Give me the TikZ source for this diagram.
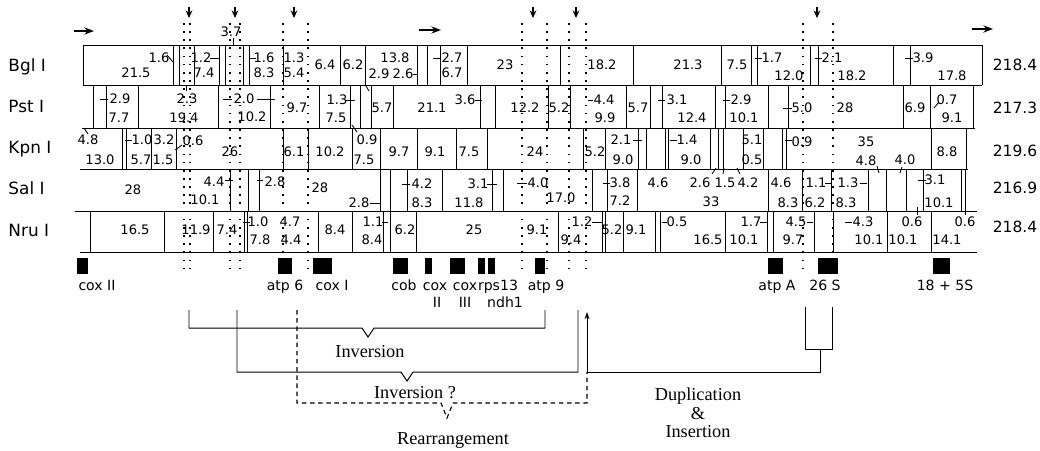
\documentclass[tikz,border=0pt]{standalone}
\usepackage{fontspec}
\setmainfont{Liberation Serif}
\newfontfamily\mapsans{DejaVu Sans}
\usepackage{tikz}
\usetikzlibrary{arrows.meta}

\begin{document}
\begin{tikzpicture}[x=0.025cm, y=-0.025cm, line width=0.7pt,
	enz/.style={anchor=base west, inner sep=0pt, font=\mapsans\fontsize{12}{14}\selectfont},
	tot/.style={inner sep=0pt, font=\mapsans\fontsize{11}{13}\selectfont},
	frag/.style={inner sep=0pt, font=\mapsans\fontsize{9.3}{10}\selectfont},
	glab/.style={anchor=base, inner sep=0pt, font=\mapsans\fontsize{10}{12}\selectfont},
	note/.style={inner sep=0pt, align=center, font=\fontsize{13}{13.1}\selectfont},
	site/.style={line width=1.1pt, dash pattern=on 1.2pt off 4.6pt},
	arr/.style={-{Stealth[length=2.4mm,width=1.8mm]}, line width=1.3pt},
	ptr/.style={-{Stealth[length=1.9mm,width=1.7mm]}, line width=0.8pt},
	back/.style={-{Stealth[length=1.8mm,width=1.2mm]}, line width=0.6pt},
	guess/.style={line width=0.8pt, dash pattern=on 3.2pt off 2.6pt},
	gbox/.style={fill=black}
	]
\useasboundingbox (0,0) rectangle (1040,450);

% enzyme rows
\node[enz] (bgl) at (8,71)  {Bgl I};
\node[enz] (pst) at (8,112) {Pst I};
\node[enz] (kpn) at (8,153) {Kpn I};
\node[enz] (sal) at (8,194) {Sal I};
\node[enz] (nru) at (8,236) {Nru I};

\node[tot] (tbgl) at (1015,65)  {218.4};
\node[tot] (tpst) at (1015,108) {217.3};
\node[tot] (tkpn) at (1015,151) {219.6};
\node[tot] (tsal) at (1015,188) {216.9};
\node[tot] (tnru) at (1015,227) {218.4};

% row frames
\draw (83,45) -- (982,45);
\draw (83,85) -- (982,85);
\draw (82,128) -- (975,128);
\draw (80,169) -- (968,169);
\draw (75,211) -- (977,211);
\draw (80,252) -- (977,252);

\foreach \vx in {83,173,179,194,219,225,243,249,283,340,365,417,427,440,467,560,633,721,751,757,810,818,893,910,982}
	\draw (\vx,45) -- (\vx,85);
\foreach \vx in {93,106,138,218,270,319,350,360,371,393,480,495,548,570,626,650,662,715,725,768,788,903,930,973}
	\draw (\vx,85) -- (\vx,128);
\foreach \vx in {122,126,151,176,283,308,352,380,417,456,487,583,605,638,646,665,668,710,718,723,743,763,782,786,931,966}
	\draw (\vx,128) -- (\vx,169);
\foreach \vx in {230,248,259,380,390,407,442,492,503,592,607,637,768,802,831,868,886,906,923,961,965}
	\draw (\vx,169) -- (\vx,211);
\foreach \vx in {90,164,213,244,247,318,352,383,390,416,558,602,605,623,655,660,725,767,773,814,833,887,931}
	\draw (\vx,211) -- (\vx,252);

% fragment sizes
\foreach \px/\py/\t [count=\i] in {136/73/21.5, 159/58/1.6, 201/58/1.2, 204/73/7.4, 264/58/1.6, 264/73/8.3,
	294/58/1.3, 294/73/5.4, 325/65/6.4, 353/65/6.2, 395/58/13.8, 379/74/2.9, 403/74/2.6, 452/58/2.7,
	452/73/6.7, 505/65/23, 602/65/18.2, 688/65/21.3, 737/65/7.5, 772/58/1.7, 789/76/12.0, 832/58/2.1,
	852/76/18.2, 923/58/3.9, 952/76/17.8}
	\node[frag] (bgl\i) at (\px,\py) {\t};
\foreach \px/\py/\t [count=\i] in {120/99/2.9, 119/118/7.7, 187/99/2.3, 184/118/19.4, 244/99/2.0, 252/117/10.2,
	297/108/9.7, 337/100/1.3, 336/118/7.5, 382/108/5.7, 432/108/21.1, 465/100/3.6, 525/108/12.2, 559/108/5.2,
	604/100/4.4, 605/118/9.9, 638/108/5.7, 677/100/3.1, 692/118/12.4, 741/100/2.9, 744/118/10.1, 802/108/5.0,
	845/108/28, 915/108/6.9, 947/100/0.7, 952/118/9.1}
	\node[frag] (pst\i) at (\px,\py) {\t};
\foreach \px/\py/\t [count=\i] in {88/140/4.8, 100/160/13.0, 142/140/1.0, 141/160/5.7, 164/140/3.2, 163/160/1.5,
	193/141/0.6, 230/152/26, 294/152/6.1, 330/152/10.2, 367/140/0.9, 364/160/7.5, 399/152/9.7, 435/152/9.1,
	469/152/7.5, 535/152/24, 595/152/5.2, 621/140/2.1, 623/160/9.0, 687/140/1.4, 691/160/9.0, 752/140/5.1,
	752/160/0.5, 802/142/0.9, 866/142/35, 866/161/4.8, 905/160/4.0, 947/152/8.8}
	\node[frag] (kpn\i) at (\px,\py) {\t};
\foreach \px/\py/\t [count=\i] in {133/190/28, 214/182/4.4, 205/200/10.1, 275/182/2.8, 320/188/28, 359/203/2.8,
	422/184/4.2, 422/203/8.3, 478/184/3.1, 469/203/11.8, 538/183/4.0, 561/198/17.0, 620/183/3.8, 620/201/7.2,
	658/183/4.6, 700/183/2.6, 725/183/1.5, 748/183/4.2, 711/202/33, 781/183/4.6, 788/203/8.3, 816/183/1.1,
	815/203/6.2, 848/183/1.3, 846/203/8.3, 935/180/3.1, 939/203/10.1}
	\node[frag] (sal\i) at (\px,\py) {\t};
\foreach \px/\py/\t [count=\i] in {135/230/16.5, 196/230/11.9, 227/230/7.4, 258/222/1.0, 260/240/7.8, 290/222/4.7,
	291/240/4.4, 335/230/8.4, 373/222/1.1, 372/240/8.4, 405/230/6.2, 474/230/25, 537/230/9.1, 582/222/1.2,
	571/240/9.4, 612/230/5.2, 636/230/9.1, 677/222/0.5, 708/240/16.5, 751/222/1.7, 744/240/10.1, 796/222/4.5,
	793/240/9.7, 863/222/4.3, 869/240/10.1, 912/222/0.6, 903/240/10.1, 965/222/0.6, 947/240/14.1}
	\node[frag] (nru\i) at (\px,\py) {\t};

% small site ticks
\foreach \ax/\ay/\bx/\by in {167/55/173/62, 210/58/219/58, 249/58/256/58, 413/74/418/74, 433/58/440/58,
	755/58/762/58, 815/58/822/58, 905/58/913/58, 233/38/233/45,
	100/99/108/99, 186/85/186/91, 223/99/232/99, 257/99/275/99, 345/100/355/100, 366/86/369/91, 475/100/482/100,
	588/100/593/100, 658/100/665/100, 723/100/730/100, 783/108/792/108, 934/108/939/102,
	84/128/88/134, 125/140/132/140, 175/150/182/145, 352/125/357/132, 633/140/642/140, 670/140/677/140,
	785/140/792/140, 877/166/879/173, 902/167/900/173,
	225/180/233/180, 257/180/263/180, 370/203/380/203, 402/184/410/184, 487/184/497/184, 517/183/527/183,
	603/183/610/183, 825/183/832/183, 860/183/867/183, 918/180/926/180, 712/174/716/168, 723/174/724/168,
	740/174/737/168,
	243/222/250/222, 382/222/388/222, 592/222/602/222, 662/222/667/222, 760/222/767/222, 807/222/813/222,
	845/222/852/222, 917/207/917/215, 965/207/965/215}
	\draw[line width=0.6pt] (\ax,\ay) -- (\bx,\by);

\node[frag] (n37) at (231,32) {3.7};

% breakpoints
\foreach \dx in {184,190,230,240,283,308,522,547,569,586,803,833}
	\draw[site] (\dx,23) -- (\dx,275);
\foreach \ax in {189,235,294,533,576,817}
	\draw[ptr] (\ax,7) -- (\ax,18);

% orientation arrows
\draw[arr] (74,31) -- (94,31);
\draw[arr] (419,30) -- (441,30);
\draw[arr] (972,29) -- (993,29);

% genes
\foreach \ga/\gb in {77/88, 278/292, 313/332, 393/408, 425/432, 450/465, 478/485, 488/495, 535/545, 768/783, 818/838, 933/950}
	\fill[gbox] (\ga,258) rectangle (\gb,274);

\node[glab] (g1)  at (97,290)  {cox II};
\node[glab] (g2)  at (285,290) {atp 6};
\node[glab] (g3)  at (332,290) {cox I};
\node[glab] (g4)  at (404,290) {cob};
\node[glab] (g5)  at (435,290) {cox};
\node[glab] (g5b) at (437,307) {II};
\node[glab] (g6)  at (465,290) {cox};
\node[glab] (g6b) at (465,307) {III};
\node[glab] (g7)  at (498,290) {rps13};
\node[glab] (g7b) at (505,307) {ndh1};
\node[glab] (g8)  at (546,290) {atp 9};
\node[glab] (g9)  at (777,290) {atp A};
\node[glab] (g10) at (825,290) {26 S};
\node[glab] (g11) at (945,290) {18 + 5S};

% rearrangements
\draw (189,310) |- (362,328) -- (368,337) -- (374,328) -| (545,310);
\draw (237,310) |- (401,372) -- (407,381) -- (413,372) -| (578,310);
\draw[guess] (297,310) |- (441,403) -- (447,418) -- (453,403) -| (587,372);
\draw (805,307) |- (832,349) -- (832,307);
\draw[back] (820,349) |- (587,372) -- (587,312);

\node[note] (inv)   at (370,352) {Inversion};
\node[note] (invq)  at (415,393) {Inversion ?};
\node[note] (rearr) at (453,440) {Rearrangement};
\node[note] (dupl)  at (698,413) {Duplication\\\&\\Insertion};
\end{tikzpicture}
\end{document}
